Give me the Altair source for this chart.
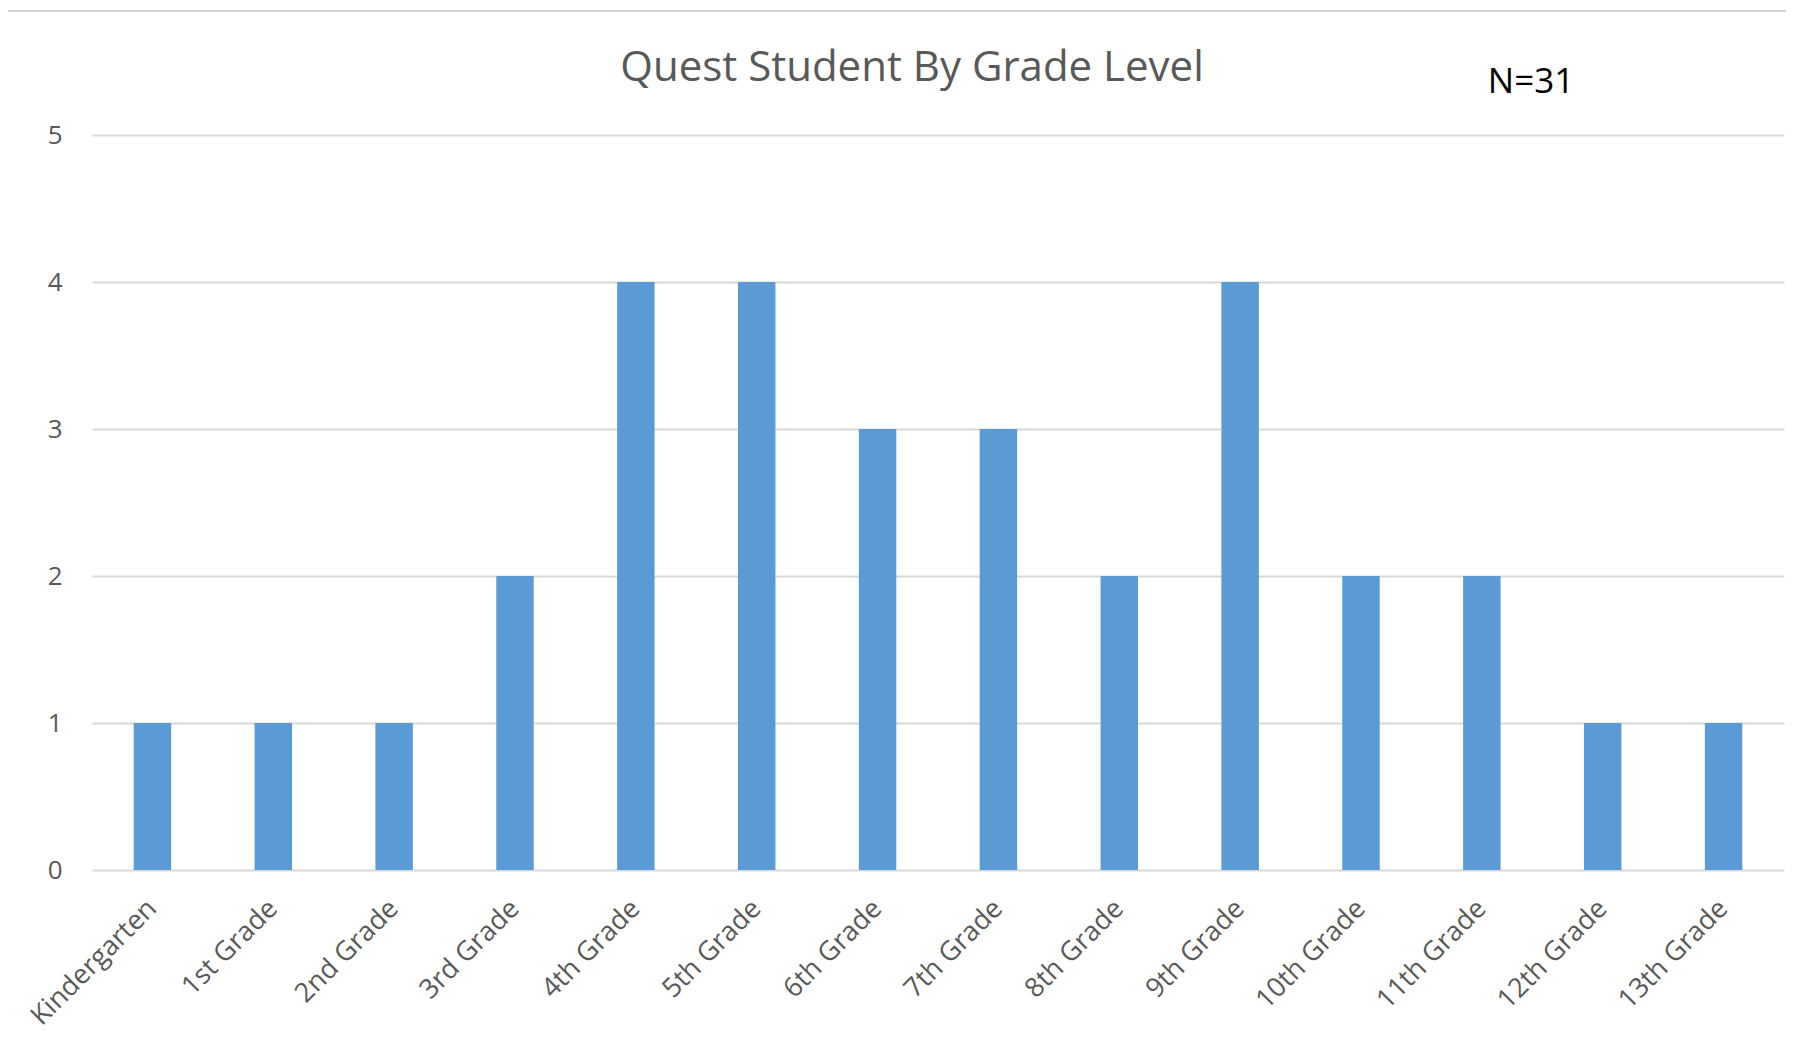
import altair as alt
import pandas as pd

grades = ["Kindergarten", "1st Grade", "2nd Grade", "3rd Grade", "4th Grade",
          "5th Grade", "6th Grade", "7th Grade", "8th Grade", "9th Grade",
          "10th Grade", "11th Grade", "12th Grade", "13th Grade"]
counts = [1, 1, 1, 2, 4, 4, 3, 3, 2, 4, 2, 2, 1, 1]
y_ticks = [0, 1, 2, 3, 4, 5]
title_text = "Quest Student By Grade Level"
note_text = "N=31"

df = pd.DataFrame({"grade": grades, "count": counts})

FONT = "Open Sans"
GRAY = "#595959"
W, H = 1692, 735

bars = alt.Chart(df).mark_bar(color="#5B9BD5").encode(
    x=alt.X("grade:N", sort=grades,
            scale=alt.Scale(paddingInner=0.69, paddingOuter=0.345),
            axis=alt.Axis(title=None, labelAngle=-45, labelFontSize=27,
                          labelFont=FONT, labelColor=GRAY, ticks=False,
                          domain=False, grid=False, labelPadding=34,
                          labelAlign="right", labelBaseline="middle")),
    y=alt.Y("count:Q", scale=alt.Scale(domain=[0, 5], nice=False),
            axis=alt.Axis(title=None, values=y_ticks, labelFontSize=26,
                          labelFont=FONT, labelColor=GRAY, ticks=False,
                          domain=False, grid=True, gridColor="#d9d9d9",
                          gridWidth=2, labelPadding=30)),
)

title = alt.Chart(pd.DataFrame({"t": [title_text]})).mark_text(
    font=FONT, fontSize=42, color=GRAY, align="center", baseline="middle"
).encode(text="t:N", x=alt.value(820), y=alt.value(-67))

note = alt.Chart(pd.DataFrame({"t": [note_text]})).mark_text(
    font=FONT, fontSize=35, color="#000000", align="center", baseline="middle"
).encode(text="t:N", x=alt.value(1439), y=alt.value(-53))

topline = alt.Chart(pd.DataFrame({"a": [0]})).mark_rule(
    color="#d4d4d4", strokeWidth=2
).encode(x=alt.value(-84), x2=alt.value(W + 2), y=alt.value(-124))

chart = alt.layer(bars, title, note, topline).properties(
    width=W, height=H,
    background="white",
    autosize=alt.AutoSizeParams(type="none"),
    padding={"left": 84, "top": 127, "right": 2, "bottom": 165},
).configure_view(stroke=None, strokeWidth=0)

chart.save("out.html", embed_options={"renderer": "svg", "actions": False})
